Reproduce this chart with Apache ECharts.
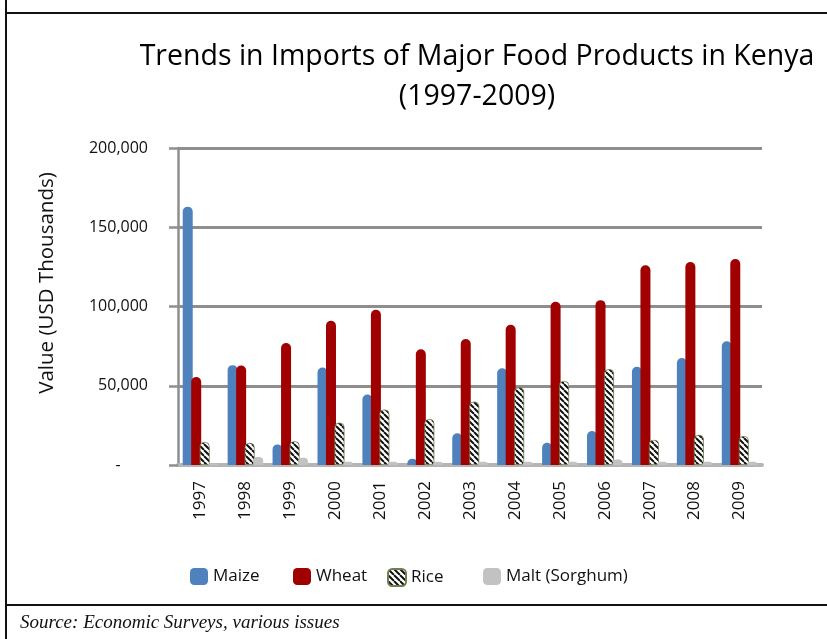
<!DOCTYPE html>
<html>
<head>
<meta charset="utf-8">
<script src="https://cdn.jsdelivr.net/npm/echarts@6/dist/echarts.min.js"></script>
<style>
  html, body { margin: 0; padding: 0; background: #fff; }
  #chart { width: 827px; height: 639px; }
</style>
</head>
<body>
<div id="chart"></div>
<script>
// Import values, USD thousands
const years = ['1997','1998','1999','2000','2001','2002','2003','2004','2005','2006','2007','2008','2009'];
const maize = [163000, 63000, 13000, 61500, 44500, 4000, 20000, 61000, 14000, 21500, 62000, 67500, 78000];
const wheat = [55500, 62700, 77000, 91000, 98000, 73000, 79500, 88500, 103000, 104000, 126000, 128000, 130000];
const rice  = [14500, 13900, 15000, 26700, 35000, 29000, 40000, 49000, 53000, 60500, 15800, 19000, 18300];
const malt  = [1000, 5000, 4500, 2000, 2000, 2000, 2000, 2000, 2000, 3500, 2000, 2000, 2000];
const yTicks = [0, 50000, 100000, 150000, 200000];

const FONT = '"Open Sans", Lato, sans-serif';

// Diagonal black/white hatch used for the rice bars
function hatch() {
  const c = document.createElement('canvas');
  c.width = 6; c.height = 6;
  const g = c.getContext('2d');
  g.fillStyle = '#ffffff';
  g.fillRect(0, 0, 6, 6);
  g.strokeStyle = '#111111';
  g.lineWidth = 2;
  g.beginPath();
  for (let k = -6; k <= 12; k += 6) {
    g.moveTo(k, 0);
    g.lineTo(k + 6, 6);
  }
  g.stroke();
  return c;
}

const chart = echarts.init(document.getElementById('chart'), null, { renderer: 'canvas' });

const barCommon = {
  type: 'bar',
  barWidth: 10,
  barGap: '-15%',
  barCategoryGap: '20%'
};

const legendStyle = {
  itemWidth: 18, itemHeight: 17,
  textStyle: { fontFamily: FONT, fontSize: 17, color: '#111' },
  top: 563
};

chart.setOption({
  animation: false,
  backgroundColor: '#fff',
  title: {
    text: 'Trends in Imports of Major Food Products in Kenya\n(1997-2009)',
    left: 472, top: 32, textAlign: 'center',
    textStyle: { fontFamily: FONT, fontSize: 28.5, fontWeight: 'normal', color: '#000', lineHeight: 40 }
  },
  legend: [
    Object.assign({ data: ['Maize'], left: 185 }, legendStyle),
    Object.assign({ data: ['Wheat'], left: 288 }, legendStyle),
    Object.assign({ data: ['Rice'], left: 382 }, legendStyle),
    Object.assign({ data: ['Malt (Sorghum)'], left: 478 }, legendStyle)
  ],
  grid: { left: 178, right: 65, top: 148, bottom: 174, containLabel: false },
  xAxis: {
    type: 'category',
    data: years,
    axisLine: { lineStyle: { color: '#b5b5b5', width: 4 } },
    axisTick: { show: false },
    axisLabel: {
      rotate: 90, margin: 16,
      fontFamily: FONT, fontSize: 17, color: '#111'
    }
  },
  yAxis: {
    type: 'value',
    min: 0, max: 200000, interval: 50000,
    axisLine: { show: true, lineStyle: { color: '#8e8e8e', width: 2.5 } },
    axisTick: { show: true, length: 9, lineStyle: { color: '#8e8e8e', width: 2.5 } },
    splitLine: { lineStyle: { color: '#8e8e8e', width: 3 } },
    axisLabel: {
      margin: 30,
      fontFamily: FONT, fontSize: 16, color: '#111',
      customValues: yTicks,
      formatter: function (v) {
        if (v === 0) return '-\u2007\u2007\u2007';
        return v.toLocaleString('en-US');
      }
    }
  },
  graphic: [
    { type: 'line', shape: { x1: 6, y1: 0, x2: 6, y2: 639 }, style: { stroke: '#111', lineWidth: 2 } },
    { type: 'line', shape: { x1: 6, y1: 13, x2: 827, y2: 13 }, style: { stroke: '#111', lineWidth: 2 } },
    { type: 'line', shape: { x1: 6, y1: 605, x2: 827, y2: 605 }, style: { stroke: '#111', lineWidth: 2 } },
    {
      type: 'text', x: 47, y: 283, rotation: Math.PI / 2,
      style: {
        text: 'Value (USD Thousands)', fontFamily: FONT, fontSize: 20.5,
        fill: '#111', align: 'center', verticalAlign: 'middle'
      }
    },
    {
      type: 'text', x: 20, y: 623,
      style: {
        text: 'Source: Economic Surveys, various issues',
        fontFamily: '"Liberation Serif", "DejaVu Serif", serif', fontStyle: 'italic', fontSize: 19,
        fill: '#111', verticalAlign: 'middle'
      }
    }
  ],
  series: [
    Object.assign({}, barCommon, {
      name: 'Maize', data: maize,
      itemStyle: { color: '#4f81bd', borderRadius: [5, 5, 0, 0] }
    }),
    Object.assign({}, barCommon, {
      name: 'Wheat', data: wheat,
      itemStyle: { color: '#a00000', borderRadius: [5, 5, 0, 0] }
    }),
    Object.assign({}, barCommon, {
      name: 'Rice', data: rice,
      itemStyle: { color: { image: hatch(), repeat: 'repeat' }, borderColor: '#6f7f50', borderWidth: 0.8, borderRadius: [4, 4, 0, 0] }
    }),
    Object.assign({}, barCommon, {
      name: 'Malt (Sorghum)', data: malt,
      itemStyle: { color: '#c2c2c2', borderRadius: [4, 4, 0, 0] }
    })
  ]
});
</script>
</body>
</html>
